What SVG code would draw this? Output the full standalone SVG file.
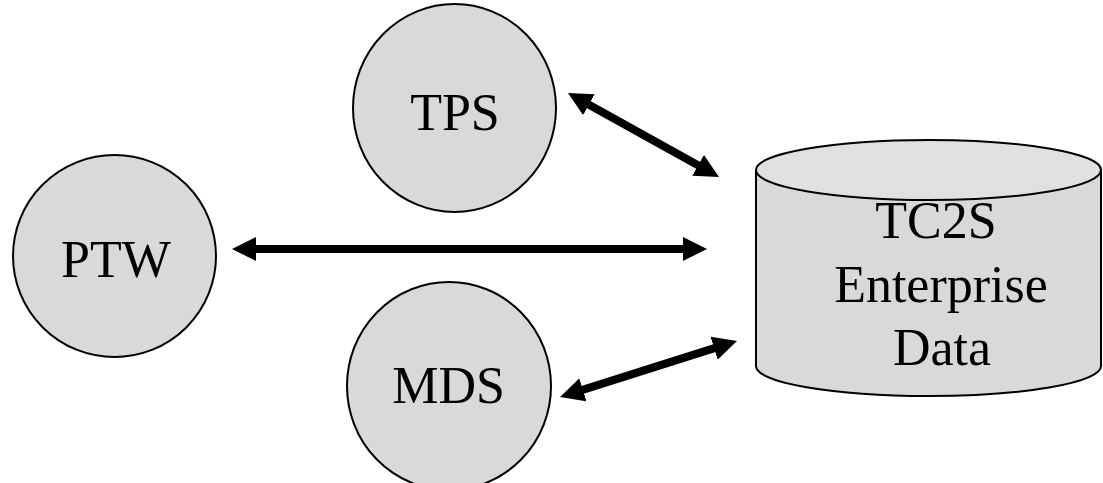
<svg xmlns="http://www.w3.org/2000/svg" width="1103" height="483" viewBox="0 0 1103 483">
  <style>
    .node { fill: #d9d9d9; stroke: #000; stroke-width: 2; }
    .cap { fill: #e0e0e0; stroke: #000; stroke-width: 2; }
    .label { font-family: "Liberation Serif", "Times New Roman", serif; font-size: 52px; fill: #000; text-anchor: middle; }
    .link { stroke: #000; stroke-width: 8; fill: none; marker-start: url(#head); marker-end: url(#head); }
  </style>
  <defs>
    <marker id="head" viewBox="0 0 24 24" refX="2" refY="12" markerWidth="24" markerHeight="24" markerUnits="userSpaceOnUse" orient="auto-start-reverse">
      <path d="M0,0 L24,12 L0,24 Z" fill="#000"/>
    </marker>
  </defs>
  <rect width="1103" height="483" fill="#fff"/>

  <g id="tps">
    <ellipse class="node" cx="454.5" cy="108" rx="101.5" ry="104"/>
    <text class="label" x="455" y="130">TPS</text>
  </g>

  <g id="ptw">
    <ellipse class="node" cx="114.5" cy="256" rx="101.5" ry="101"/>
    <text class="label" x="116" y="277">PTW</text>
  </g>

  <g id="mds">
    <ellipse class="node" cx="449" cy="386" rx="102" ry="104"/>
    <text class="label" x="448.5" y="403">MDS</text>
  </g>

  <g id="tc2s">
    <path class="node" d="M756,170 L756,366 A172.5,30 0 0 0 1101,366 L1101,170 Z"/>
    <ellipse class="cap" cx="928.5" cy="170" rx="172.5" ry="30"/>
    <text class="label" x="936" y="238">TC2S</text>
    <text class="label" x="941" y="302">Enterprise</text>
    <text class="label" x="942" y="365">Data</text>
  </g>

  <g id="connectors">
    <line class="link" x1="587.2" y1="103.7" x2="699.8" y2="166.3"/>
    <line class="link" x1="254" y1="249" x2="685" y2="249"/>
    <line class="link" x1="581" y1="390.4" x2="716" y2="347.6"/>
  </g>
</svg>
